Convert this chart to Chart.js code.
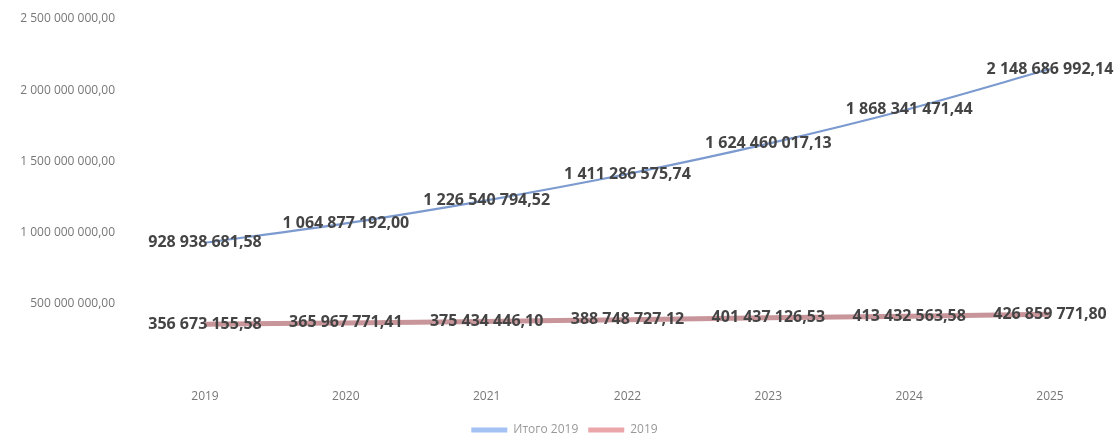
<!DOCTYPE html>
<html>
<head>
<meta charset="utf-8">
<script src="https://cdn.jsdelivr.net/npm/chart.js@4/dist/chart.umd.min.js"></script>
<style>
html,body{margin:0;padding:0;background:#fff;overflow:hidden;}
canvas{display:block;}
</style>
</head>
<body>
<canvas id="c" width="1117" height="438"></canvas>
<script>
const categories = ['2019','2020','2021','2022','2023','2024','2025'];
const seriesNames = ['Итого 2019','2019'];
const seriesA = [928938681.58, 1064877192.00, 1226540794.52, 1411286575.74, 1624460017.13, 1868341471.44, 2148686992.14];
const seriesB = [356673155.58, 365967771.41, 375434446.10, 388748727.12, 401437126.53, 413432563.58, 426859771.80];
const yTicks = [0, 500000000, 1000000000, 1500000000, 2000000000, 2500000000];

function fmt(v){
  const parts = v.toFixed(2).split('.');
  return parts[0].replace(/\B(?=(\d{3})+(?!\d))/g,' ') + ',' + parts[1];
}

const labelPlugin = {
  id:'pointLabels',
  afterDatasetsDraw(chart){
    const ctx = chart.ctx;
    ctx.save();
    ctx.font = 'bold 16px "Open Sans", "DejaVu Sans", sans-serif';
    ctx.fillStyle = '#444';
    ctx.textAlign = 'center';
    ctx.textBaseline = 'middle';
    chart.data.datasets.forEach((ds,i)=>{
      const meta = chart.getDatasetMeta(i);
      meta.data.forEach((pt,j)=>{
        ctx.fillText(fmt(ds.data[j]), pt.x, pt.y);
      });
    });
    ctx.restore();
  }
};

new Chart(document.getElementById('c'), {
  type:'line',
  data:{
    labels: categories,
    datasets:[
      {label: seriesNames[0], data: seriesA, borderColor:'#7b9ad0', backgroundColor:'#a4c2f4', borderWidth:2.2, pointRadius:0, tension:0.3, yAxisID:'y'},
      {label: seriesNames[1], data: seriesB, borderColor:'#c8959a', backgroundColor:'#eaa6a9', borderWidth:5, pointRadius:0, tension:0.3, yAxisID:'y'}
    ]
  },
  options:{
    responsive:false,
    animation:false,
    devicePixelRatio:1,
    layout:{padding:{top:19,right:0,left:12,bottom:-8}},
    plugins:{
      legend:{
        position:'bottom',
        labels:{
          boxWidth:36, boxHeight:5, padding:10,
          color:'#999',
          font:{size:12, family:'"Open Sans", sans-serif'},
          generateLabels(chart){
            return chart.data.datasets.map((ds,i)=>({text:ds.label, fillStyle:ds.backgroundColor, strokeStyle:ds.backgroundColor, lineWidth:0, datasetIndex:i, fontColor:'#999'}));
          }
        }
      },
      tooltip:{enabled:false}
    },
    scales:{
      x:{
        offset:false,
        afterFit(scale){ scale.height = 39; },
        grid:{display:false, drawTicks:false},
        border:{display:false},
        ticks:{color:'#777', padding:14, maxRotation:0, font:{size:12, family:'"Open Sans", sans-serif'}}
      },
      y:{
        min:0, max:2500000000,
        afterBuildTicks(scale){ scale.ticks = yTicks.map(v=>({value:v})); },
        afterFit(scale){ scale.width = 193; scale.paddingTop = 0; scale.paddingBottom = 0; },
        grid:{display:false, drawTicks:false},
        border:{display:false},
        ticks:{color:'#777', padding:90, font:{size:12, family:'"Open Sans", sans-serif'},
          callback(v){ return v===0 ? '' : fmt(v); }}
      },
      yr:{
        position:'right',
        min:0, max:2500000000,
        afterFit(scale){ scale.width = 67; scale.paddingTop = 0; scale.paddingBottom = 0; },
        grid:{display:false, drawTicks:false},
        border:{display:false},
        ticks:{display:false}
      }
    }
  },
  plugins:[labelPlugin]
});
</script>
</body>
</html>
